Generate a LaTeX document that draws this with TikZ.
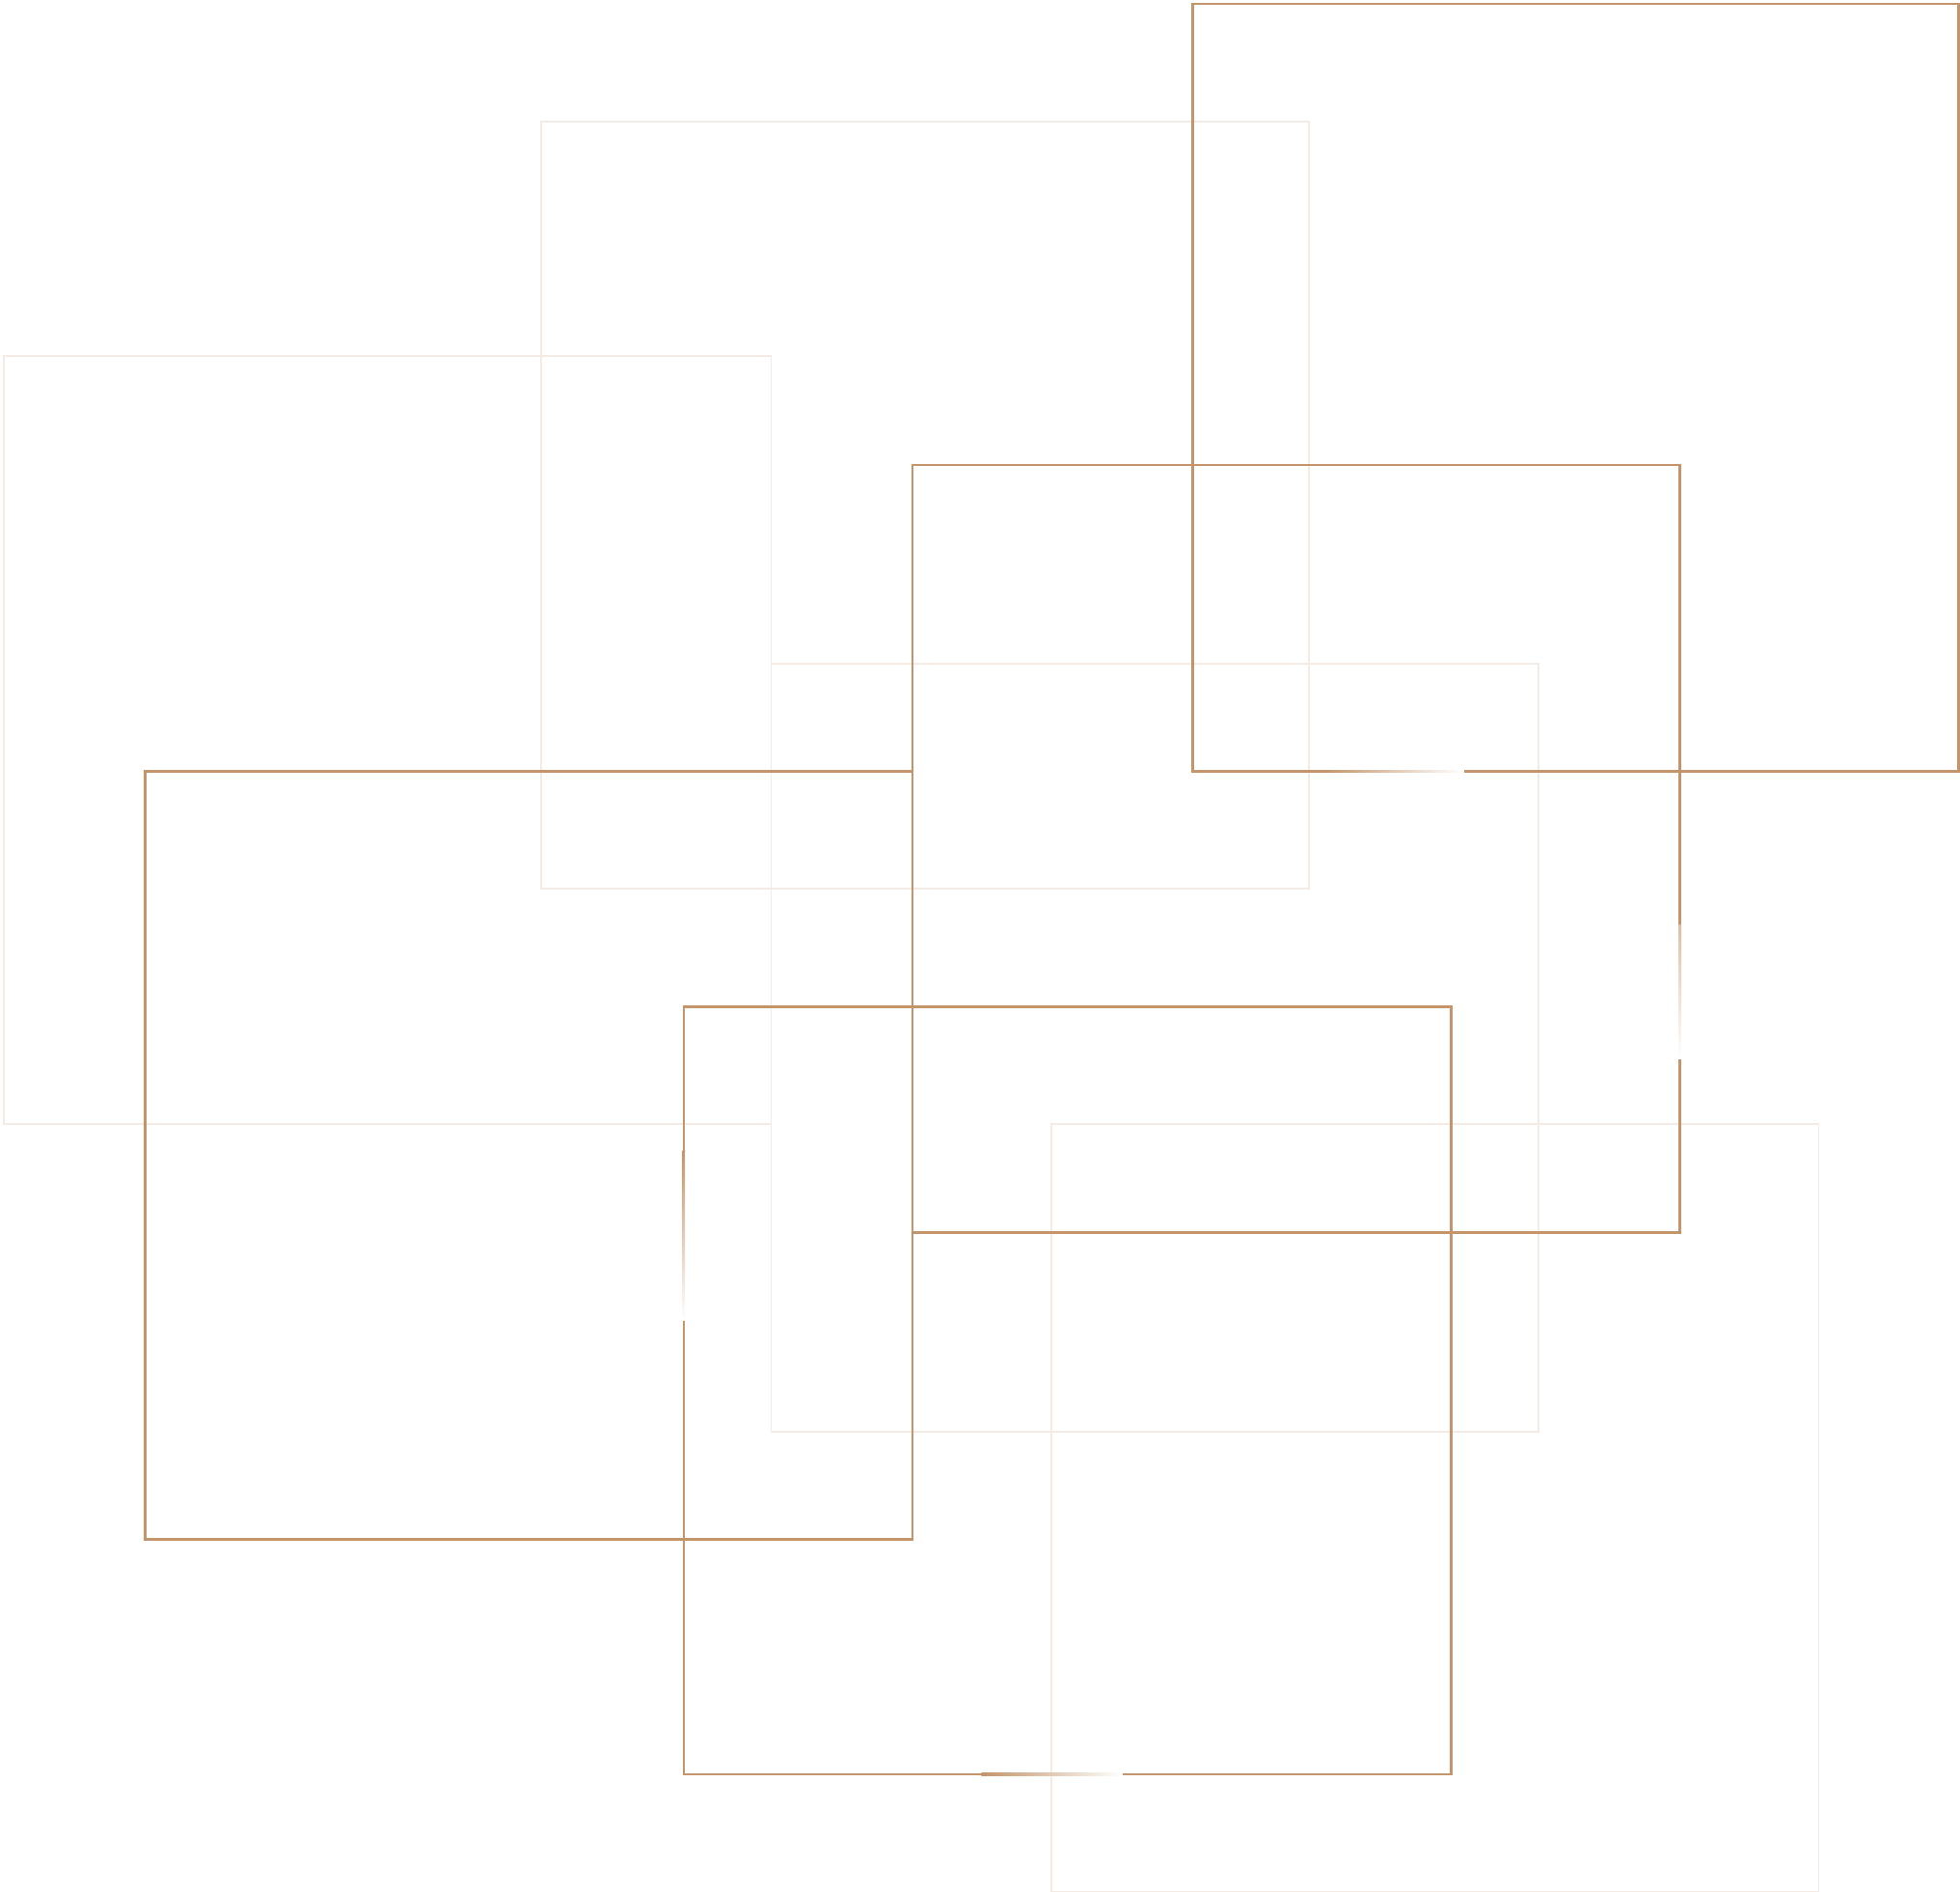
\documentclass[tikz,border=0pt]{standalone}
\usepackage{tikz}
\definecolor{tan}{HTML}{C4956A}
\begin{document}
\begin{tikzpicture}[x=0.01cm,y=-0.01cm,
strong/.style={draw=tan,line width=0.6pt},
faint/.style={draw=tan!18,line width=0.4pt}
]
\useasboundingbox (0,0) rectangle (1568,1513);
% faint squares
\draw[faint] (433,97) rectangle (1047,711);
\draw[faint] (3,285) rectangle (617,899);
\draw[faint] (617,531) rectangle (1231,1145);
\draw[faint] (841,899) rectangle (1455,1513);
% strong squares, with faded gaps
\draw[strong] (1060,617) -- (954,617) -- (954,3) -- (1567,3) -- (1567,617) -- (1171,617);
\shade[left color=tan,right color=white] (1060,616) rectangle (1171,618);
\draw[strong] (1344,740) -- (1344,372) -- (730,372) -- (730,986) -- (1344,986) -- (1344,847);
\shade[top color=tan!60,bottom color=white] (1343,740) rectangle (1345,847);
\draw[strong] (116,617) rectangle (730,1231);
\draw[strong] (547,920) -- (547,805) -- (1161,805) -- (1161,1419) -- (898,1419);
\draw[strong] (785,1419) -- (547,1419) -- (547,1056);
\shade[top color=tan,bottom color=white] (546,920) rectangle (548,1056);
\shade[left color=tan,right color=white] (785,1418) rectangle (898,1420);
\end{tikzpicture}
\end{document}
